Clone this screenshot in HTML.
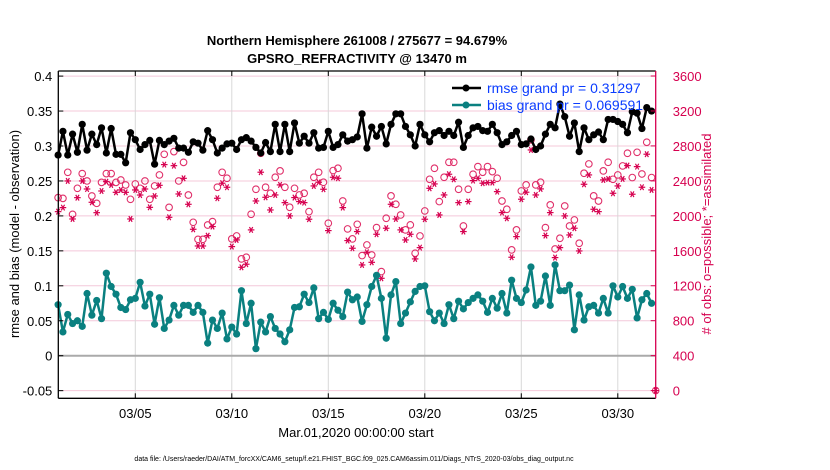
<!DOCTYPE html>
<html><head><meta charset="utf-8">
<style>
body{margin:0;background:#fff;}
svg{display:block;font-family:"Liberation Sans",Arial,sans-serif;}
</style></head>
<body>
<svg id="chart" width="830" height="470" viewBox="0 0 830 470" xmlns="http://www.w3.org/2000/svg">
<rect width="830" height="470" fill="#fff"/>
<text x="357" y="45" text-anchor="middle" font-size="13" font-weight="bold">Northern Hemisphere 261008 / 275677 = 94.679%</text>
<text x="357" y="63" text-anchor="middle" font-size="13" font-weight="bold">GPSRO_REFRACTIVITY @ 13470 m</text>
<g id="grid"></g>
<g id="marks"></g>
<g id="axes"></g>
<text transform="translate(19,234) rotate(-90)" text-anchor="middle" font-size="13">rmse and bias (model - observation)</text>
<text transform="translate(711,234) rotate(-90)" text-anchor="middle" font-size="13" fill="#d6004f"># of obs: o=possible; *=assimilated</text>
<text x="356" y="437" text-anchor="middle" font-size="13">Mar.01,2020 00:00:00 start</text>
<text x="354" y="461" text-anchor="middle" font-size="7">data file: /Users/raeder/DAI/ATM_forcXX/CAM6_setup/f.e21.FHIST_BGC.f09_025.CAM6assim.011/Diags_NTrS_2020-03/obs_diag_output.nc</text>
<g id="legend">
<line x1="452" y1="88" x2="481" y2="88" stroke="#000" stroke-width="2.5"/>
<circle cx="466" cy="88" r="3.5" fill="#000"/>
<text x="487" y="93" font-size="14" fill="#0a3cff">rmse grand pr = 0.31297</text>
<line x1="452" y1="105" x2="481" y2="105" stroke="#0a8080" stroke-width="2.5"/>
<circle cx="466" cy="105" r="3.5" fill="#0a8080"/>
<text x="487" y="110" font-size="14" fill="#0a3cff">bias grand pr = 0.069591</text>
</g>
</svg>
<script>
const rmse=[0.287,0.321,0.287,0.317,0.291,0.331,0.294,0.317,0.302,0.326,0.290,0.325,0.288,0.288,0.276,0.319,0.309,0.295,0.302,0.308,0.274,0.308,0.302,0.307,0.311,0.297,0.297,0.291,0.306,0.304,0.294,0.322,
0.309,0.290,0.297,0.303,0.304,0.295,0.309,0.312,0.307,0.298,0.290,0.305,0.292,0.331,0.292,0.331,0.292,0.333,0.304,0.314,0.304,0.319,0.297,0.298,0.321,0.298,0.302,0.316,0.307,0.309,
0.313,0.346,0.297,0.327,0.314,0.328,0.303,0.331,0.346,0.346,0.328,0.316,0.300,0.331,0.316,0.306,0.319,0.322,0.315,0.321,0.315,0.334,0.298,0.315,0.326,0.328,0.322,0.321,0.331,0.319,0.302,0.306,
0.315,0.321,0.302,0.303,0.310,0.295,0.300,0.317,0.331,0.326,0.360,0.342,0.314,0.333,0.292,0.326,0.309,0.316,0.320,0.309,0.338,0.338,0.335,0.331,0.319,0.349,0.347,0.325,0.355,0.350];
const bias=[0.073,0.034,0.059,0.046,0.050,0.042,0.089,0.058,0.079,0.053,0.118,0.099,0.088,0.069,0.066,0.080,0.082,0.105,0.071,0.088,0.045,0.083,0.039,0.051,0.072,0.058,0.072,0.072,0.062,0.072,0.062,0.018,
0.051,0.039,0.061,0.024,0.041,0.031,0.093,0.046,0.075,0.010,0.048,0.034,0.056,0.039,0.031,0.020,0.037,0.069,0.070,0.088,0.076,0.097,0.053,0.062,0.052,0.075,0.065,0.056,0.091,0.080,
0.084,0.049,0.073,0.099,0.115,0.082,0.025,0.087,0.106,0.046,0.061,0.077,0.092,0.099,0.100,0.063,0.050,0.061,0.046,0.073,0.053,0.078,0.067,0.076,0.082,0.087,0.078,0.062,0.082,0.068,0.089,0.061,
0.108,0.082,0.076,0.094,0.127,0.072,0.078,0.114,0.072,0.130,0.093,0.093,0.101,0.037,0.087,0.051,0.070,0.072,0.061,0.082,0.061,0.100,0.084,0.099,0.082,0.095,0.054,0.080,0.089,0.075];
const possible=[2208,2200,2498,2017,2315,2483,2399,2227,2143,2383,2483,2483,2383,2410,2353,2189,2365,2315,2399,2189,2342,2468,2704,2097,2735,2399,2612,2238,1926,1731,1731,1895,
1934,2327,2498,2430,1736,1770,1507,1526,2018,2304,2716,2327,2258,2441,2514,2327,2098,2315,2239,2258,2048,2441,2498,2384,1915,2518,2544,2170,1850,1736,
1903,1545,1667,1552,1865,1362,1972,2228,2132,2010,1839,1896,1572,1770,2056,2418,2544,2163,2441,2613,2613,2304,1884,2304,2476,2563,2499,2563,2506,2430,2170,2075,
1610,1839,2285,2354,2869,2354,2384,1865,2125,1621,1743,2113,1884,1953,1686,2487,2594,2228,2170,2514,2613,2418,2468,2571,2716,2438,2727,2479,2842,2438];
const assimilated=[2048,2094,2399,1964,2208,2399,2307,2155,2036,2284,2391,2353,2269,2296,2269,1964,2296,2238,2307,2097,2227,2349,2586,1983,2574,2250,2429,2132,1846,1655,1655,1773,
1877,2201,2373,2327,1648,1724,1411,1446,1839,2170,2499,2212,2067,2239,2354,2151,1999,2209,2163,2151,1961,2342,2384,2304,1831,2441,2430,2094,1717,1629,
1820,1438,1583,1468,1789,1285,1858,2132,1964,1839,1724,1789,1507,1636,1961,2315,2365,2010,2239,2476,2418,2151,1820,2163,2403,2430,2373,2380,2380,2277,2037,1972,
1526,1762,2190,2270,2754,2239,2308,1774,2037,1522,1636,1999,1781,1858,1598,2361,2468,2075,2048,2411,2422,2258,2342,2422,2575,2247,2563,2327,2705,2296];
const leftTicks=[0.4,0.35,0.3,0.25,0.2,0.15,0.1,0.05,0,-0.05];
const leftTickLabels=["0.4","0.35","0.3","0.25","0.2","0.15","0.1","0.05","0","-0.05"];
const rightTicks=[3600,3200,2800,2400,2000,1600,1200,800,400,0];
const xTickDays=[4,9,14,19,24,29];
const xTickLabels=["03/05","03/10","03/15","03/20","03/25","03/30"];

const NS="http://www.w3.org/2000/svg";
const L=58.3,R=655.7,T=71,B=398.3;
const x=d=>58.1+d*19.3;
const yL=v=>355.7-v*699;
const yR=c=>390.6-c*314.6/3600;
function mk(tag,attrs,parent){const e=document.createElementNS(NS,tag);for(const k in attrs)e.setAttribute(k,attrs[k]);parent.appendChild(e);return e;}
const grid=document.getElementById('grid'),marks=document.getElementById('marks'),axes=document.getElementById('axes');
leftTicks.forEach((v,i)=>{
  if(v!==0){const g=mk('line',{x1:L,x2:R,y1:yL(v),y2:yL(v),stroke:'#f4c8da','stroke-width':1},grid);
  
  }
  mk('line',{x1:L,x2:L+5,y1:yL(v),y2:yL(v),stroke:'#000'},axes);
  const t=mk('text',{x:L-6,y:yL(v)+5,'text-anchor':'end','font-size':13},axes);t.textContent=leftTickLabels[i];
  
  
});
rightTicks.forEach(c=>{
  mk('line',{x1:R-5,x2:R,y1:yR(c),y2:yR(c),stroke:'#d6004f'},axes);
  const t=mk('text',{x:R+17,y:yR(c)+5,'font-size':13,fill:'#d6004f'},axes);t.textContent=c;
  
  
});
xTickDays.forEach((d,i)=>{
  const g=mk('line',{x1:x(d),x2:x(d),y1:T,y2:B,stroke:'#d8d8d8'},grid);
  
  
  mk('line',{x1:x(d),x2:x(d),y1:B,y2:B-5,stroke:'#000'},axes);
  mk('line',{x1:x(d),x2:x(d),y1:T,y2:T+5,stroke:'#000'},axes);
  const t=mk('text',{x:x(d),y:418,'text-anchor':'middle','font-size':13},axes);t.textContent=xTickLabels[i];
  
  
});
const z=mk('line',{x1:L,x2:R,y1:yL(0),y2:yL(0),stroke:'#aaa','stroke-width':2},grid);


function star(cx,cy,p){const s=3.3;
  const g=mk('g',{stroke:'#d6004f','stroke-width':1.2},p);
  
  
  mk('line',{x1:cx-s,x2:cx+s,y1:cy,y2:cy},g);
  mk('line',{x1:cx-s*0.5,x2:cx+s*0.5,y1:cy-s*0.87,y2:cy+s*0.87},g);
  mk('line',{x1:cx+s*0.5,x2:cx-s*0.5,y1:cy-s*0.87,y2:cy+s*0.87},g);}
possible.forEach((c,i)=>{const e=mk('circle',{cx:x(i*0.25),cy:yR(c),r:3.3,fill:'none',stroke:'#e0306a','stroke-width':1.1},marks);
  
  });
assimilated.forEach((c,i)=>star(x(i*0.25),yR(c),marks));
function series(vals,color,name){
  const pts=vals.map((v,i)=>x(i*0.25)+','+yL(v)).join(' ');
  const pl=mk('polyline',{points:pts,fill:'none',stroke:color,'stroke-width':2.5,'stroke-linejoin':'round'},marks);
  
  
  vals.forEach((v,i)=>{const c=mk('circle',{cx:x(i*0.25),cy:yL(v),r:3.6,fill:color},marks);
    
    });
}
series(rmse,'#000','rmse');
series(bias,'#0a8080','bias');
const zc=mk('circle',{cx:R,cy:yR(0),r:3.3,fill:'none',stroke:'#e0306a'},marks);


star(R,yR(0),marks);
mk('line',{x1:L,x2:L,y1:T,y2:B,stroke:'#000','stroke-width':1.3},axes);
mk('line',{x1:L,x2:R,y1:T,y2:T,stroke:'#000','stroke-width':1.3},axes);
mk('line',{x1:L,x2:R,y1:B,y2:B,stroke:'#000','stroke-width':1.3},axes);
mk('line',{x1:R,x2:R,y1:T,y2:B,stroke:'#d6004f','stroke-width':1.3},axes);
document.getElementById('chart').appendChild(document.getElementById('legend'));
</script>
</body></html>
